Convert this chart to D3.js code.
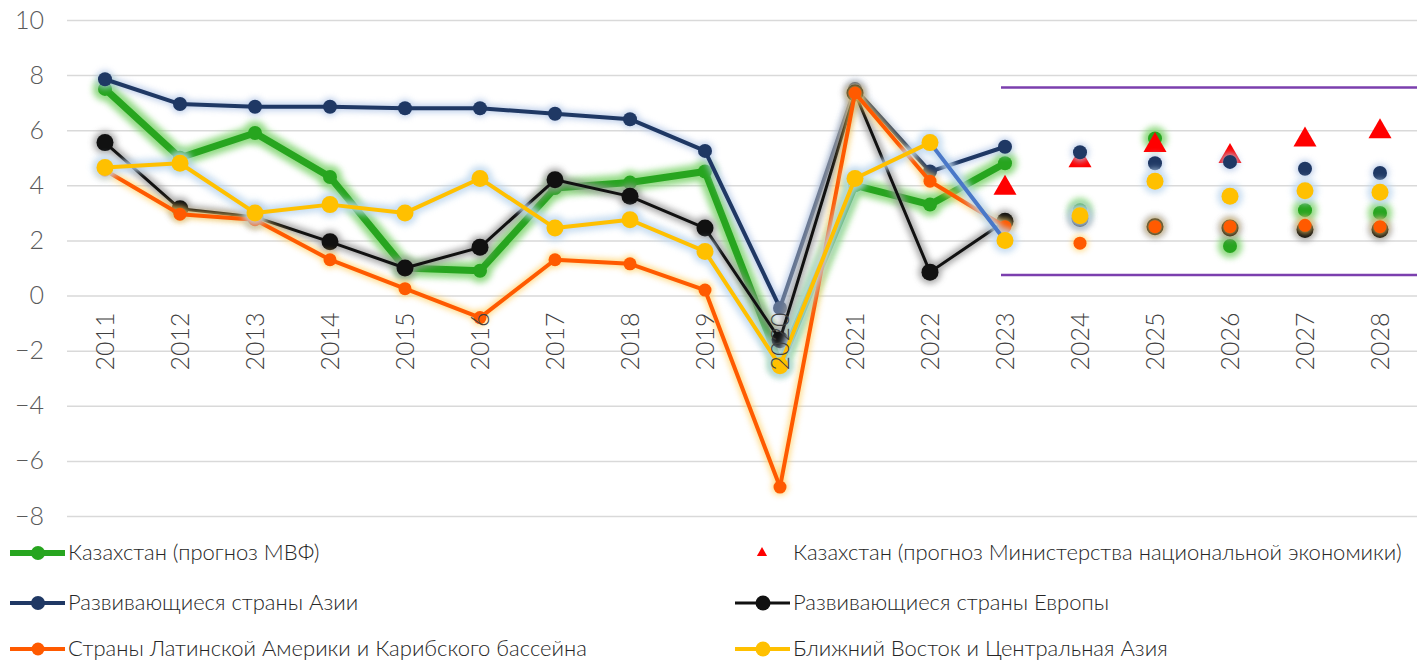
<!DOCTYPE html>
<html>
<head>
<meta charset="utf-8">
<script src="https://cdn.jsdelivr.net/npm/d3@7"></script>
<style>
  body { margin: 0; background: #fff; }
  text { font-family: Lato, "Noto Sans", sans-serif; }
</style>
</head>
<body>
<svg width="1417" height="661"></svg>
<script>
// data
var years = ['2011','2012','2013','2014','2015','2016','2017','2018','2019','2020','2021','2022','2023','2024','2025','2026','2027','2028'];
var yTicks = [10, 8, 6, 4, 2, 0, -2, -4, -6, -8];
var kzImf   = [7.5, 5.0, 5.9, 4.3, 1.0, 0.9, 3.9, 4.1, 4.5, -2.5, 4.0, 3.3, 4.8, 3.1, 5.7, 1.8, 3.1, 3.0];
var kzMin   = [null, null, null, null, null, null, null, null, null, null, null, null, 3.9, 4.9, 5.45, 5.05, 5.65, 5.95];
var asia    = [7.85, 6.95, 6.85, 6.85, 6.8, 6.8, 6.6, 6.4, 5.25, -0.45, 7.5, 4.5, 5.4, 5.2, 4.8, 4.85, 4.6, 4.45];
var europe  = [5.55, 3.15, 2.85, 1.95, 1.0, 1.75, 4.2, 3.6, 2.45, -1.6, 7.35, 0.85, 2.7, 2.8, 2.5, 2.45, 2.4, 2.4];
var latam   = [4.55, 2.95, 2.75, 1.3, 0.25, -0.8, 1.3, 1.15, 0.2, -6.95, 7.35, 4.15, 2.5, 1.9, 2.5, 2.5, 2.55, 2.5];
var mideast = [4.65, 4.8, 3.0, 3.3, 3.0, 4.25, 2.45, 2.75, 1.6, -2.55, 4.25, 5.55, 2.0, 2.9, 4.15, 3.6, 3.8, 3.75];
var rangeLines = [7.55, 0.75];
var lastActual = '2023';

var svg = d3.select('svg');

var ScaleX = d3.scalePoint().domain(years).range([105, 1380]);
var ScaleY = d3.scaleLinear().domain([-8, 10]).range([516, 20]);

var defs = svg.append('defs');
defs.append('filter').attr('id', 'glow')
    .attr('x', '-50%').attr('y', '-50%').attr('width', '200%').attr('height', '200%')
    .append('feGaussianBlur').attr('stdDeviation', 3);
defs.append('filter').attr('id', 'glowSmall')
    .attr('x', '-50%').attr('y', '-50%').attr('width', '200%').attr('height', '200%')
    .append('feGaussianBlur').attr('stdDeviation', 1.5);

// grid
svg.append('g')
    .attr('transform', 'translate(67,0)')
    .call(d3.axisLeft(ScaleY).tickValues(yTicks).tickSize(-1360).tickFormat(''))
    .call(function(g){
        g.select('.domain').remove();
        g.selectAll('.tick line').attr('stroke', '#d9d9d9').attr('stroke-width', 1.5);
    });

// y labels
svg.append('g')
    .attr('transform', 'translate(44,0)')
    .call(d3.axisLeft(ScaleY).tickValues(yTicks).tickSize(0).tickPadding(0))
    .call(function(g){
        g.select('.domain').remove();
        g.selectAll('text').attr('font-size', 25).attr('font-weight', 300).attr('fill', '#595959')
            .attr('font-family', 'Lato, sans-serif');
    });

// purple range lines
var rx0 = ScaleX(lastActual) - 4;
rangeLines.forEach(function(v){
    svg.append('line').attr('x1', rx0).attr('x2', 1417).attr('y1', ScaleY(v)).attr('y2', ScaleY(v))
        .attr('stroke', '#cbb6e2').attr('stroke-width', 9).attr('filter', 'url(#glowSmall)');
    svg.append('line').attr('x1', rx0).attr('x2', 1417).attr('y1', ScaleY(v)).attr('y2', ScaleY(v))
        .attr('stroke', '#7b3fae').attr('stroke-width', 2.5);
});

var series = [
    {name: 'Казахстан (прогноз МВФ)', values: kzImf, color: '#27a51f', glow: '#7fd46e', lw: 7, r: 7, gw: 10},
    {name: 'Казахстан (прогноз Министерства национальной экономики)', values: kzMin, color: '#ff0000', triangle: true},
    {name: 'Развивающиеся страны Азии', values: asia, color: '#1f3864', glow: '#b4c7e7', lw: 4, r: 7, gw: 4,
        segColor: {'2020': '#5f7191'}},
    {name: 'Развивающиеся страны Европы', values: europe, color: '#111111', glow: '#9a9a9a', lw: 3, r: 8.5, gw: 6},
    {name: 'Страны Латинской Америки и Карибского бассейна', values: latam, color: '#ff5a00', glow: '#ffd066', lw: 4, r: 6.5, gw: 3},
    {name: 'Ближний Восток и Центральная Азия', values: mideast, color: '#ffc000', glow: '#bdd7ee', lw: 4, r: 8.5, gw: 8,
        segColor: {'2022': '#4a78c8'}}
];

var lastIdx = years.indexOf(lastActual);

series.forEach(function(s, si){
    var g = svg.append('g');
    var pts = [];
    s.values.forEach(function(v, i){
        if (v !== null) pts.push({year: years[i], v: v, i: i});
    });
    if (s.triangle) {
        g.selectAll('path').data(pts).enter().append('path')
            .attr('d', d3.symbol().type(d3.symbolTriangle).size(230))
            .attr('transform', function(d){ return 'translate(' + ScaleX(d.year) + ',' + ScaleY(d.v) + ')'; })
            .attr('fill', s.color);
        return;
    }
    var segs = [];
    for (var i = 0; i < lastIdx; i++) {
        segs.push({a: pts[i], b: pts[i + 1], color: (s.segColor && s.segColor[years[i]]) || s.color});
    }
    // glow
    var gg = g.append('g').attr('filter', 'url(#glow)').attr('opacity', 0.85);
    gg.selectAll('line').data(segs).enter().append('line')
        .attr('x1', function(d){ return ScaleX(d.a.year); })
        .attr('y1', function(d){ return ScaleY(d.a.v); })
        .attr('x2', function(d){ return ScaleX(d.b.year); })
        .attr('y2', function(d){ return ScaleY(d.b.v); })
        .attr('stroke', s.glow).attr('stroke-width', s.lw + s.gw).attr('stroke-linecap', 'round');
    gg.selectAll('circle').data(pts).enter().append('circle')
        .attr('cx', function(d){ return ScaleX(d.year); })
        .attr('cy', function(d){ return ScaleY(d.v); })
        .attr('r', s.r + s.gw / 2)
        .attr('fill', s.glow);
    // lines
    g.selectAll('line.seg').data(segs).enter().append('line')
        .attr('class', 'seg')
        .attr('x1', function(d){ return ScaleX(d.a.year); })
        .attr('y1', function(d){ return ScaleY(d.a.v); })
        .attr('x2', function(d){ return ScaleX(d.b.year); })
        .attr('y2', function(d){ return ScaleY(d.b.v); })
        .attr('stroke', function(d){ return d.color; })
        .attr('stroke-width', s.lw).attr('stroke-linecap', 'round');
    // markers
    g.selectAll('circle.dot').data(pts).enter().append('circle')
        .attr('class', 'dot')
        .attr('cx', function(d){ return ScaleX(d.year); })
        .attr('cy', function(d){ return ScaleY(d.v); })
        .attr('r', s.r)
        .attr('fill', function(d){ return (si === 2 && s.segColor[d.year]) ? s.segColor[d.year] : s.color; });
});

// x labels (rotated), drawn over the series like in the original
svg.append('g')
    .attr('transform', 'translate(0,' + ScaleY(0) + ')')
    .call(d3.axisBottom(ScaleX).tickSize(0))
    .call(function(g){
        g.select('.domain').remove();
        g.selectAll('text')
            .attr('font-size', 25).attr('font-weight', 300).attr('fill', '#404040')
            .attr('font-family', 'Lato, sans-serif')
            .attr('text-anchor', 'end')
            .attr('transform', 'rotate(-90)')
            .attr('x', -17).attr('y', 0).attr('dy', '0.35em');
    });

// legend
var legendPos = [[10, 553], [735, 553], [10, 603], [735, 603], [10, 649], [735, 649]];
series.forEach(function(s, i){
    var p = legendPos[i];
    var lg = svg.append('g').attr('transform', 'translate(' + p[0] + ',' + p[1] + ')');
    if (s.triangle) {
        lg.append('path').attr('d', d3.symbol().type(d3.symbolTriangle).size(45))
            .attr('transform', 'translate(27,0)').attr('fill', s.color);
    } else {
        lg.append('line').attr('x1', 0).attr('x2', 55).attr('y1', 0).attr('y2', 0)
            .attr('stroke', s.color).attr('stroke-width', Math.min(s.lw, 6));
        lg.append('circle').attr('cx', 28).attr('cy', 0).attr('r', Math.min(s.r, 7.5)).attr('fill', s.color);
    }
    lg.append('text').attr('x', 58).attr('y', 0).attr('dy', '0.33em')
        .attr('font-size', 22).attr('font-weight', 300).attr('fill', '#262626')
        .text(s.name);
});
</script>
</body>
</html>
